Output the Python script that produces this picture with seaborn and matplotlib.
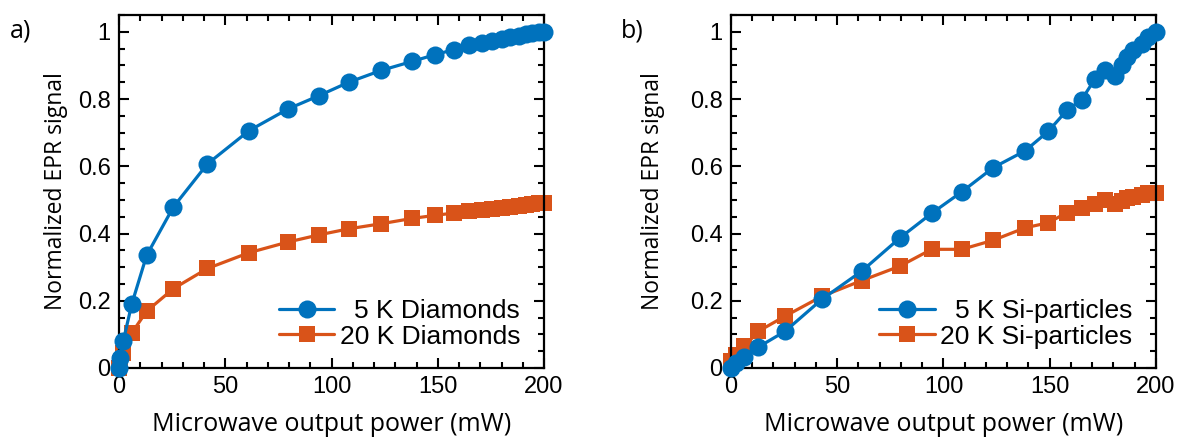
import numpy as np
import matplotlib
matplotlib.use("Agg")
import matplotlib.pyplot as plt
import seaborn as sns
from matplotlib.ticker import MultipleLocator, FixedFormatter, FixedLocator

# Panel a) diamonds
power_dia = [0, 0.5, 2, 6, 13, 25.6, 41.6, 61.2, 79.7, 94.1, 108.1, 123.3, 138.0,
             148.7, 157.6, 164.7, 170.7, 175.5, 180, 184, 188, 191.5, 194.5, 197.5, 200]
dia_5k = [0, 0.03, 0.08, 0.19, 0.335, 0.479, 0.607, 0.706, 0.771, 0.810, 0.850, 0.885,
          0.912, 0.932, 0.947, 0.960, 0.968, 0.974, 0.979, 0.984, 0.988, 0.992, 0.995, 0.998, 1.0]
dia_20k = [0, 0.015, 0.044, 0.104, 0.169, 0.236, 0.296, 0.343, 0.375, 0.396, 0.414, 0.429,
           0.445, 0.454, 0.461, 0.466, 0.470, 0.474, 0.477, 0.480, 0.483, 0.486, 0.488, 0.490, 0.492]

# Panel b) Si-particles
power_si = [0, 2.4, 6.3, 12.8, 25.4, 42.7, 61.5, 79.5, 94.4, 108.6, 123.4, 138.4, 149.3,
            158.0, 165.0, 171.3, 176.0, 180.7, 183.9, 186.2, 189.3, 193.3, 196.4, 200]
si_5k = [0, 0.014, 0.034, 0.062, 0.109, 0.204, 0.288, 0.387, 0.460, 0.524, 0.596, 0.646,
         0.704, 0.766, 0.798, 0.860, 0.885, 0.870, 0.900, 0.925, 0.945, 0.965, 0.985, 1.0]
si_20k = [0.02, 0.04, 0.064, 0.109, 0.154, 0.213, 0.260, 0.303, 0.353, 0.353, 0.380, 0.417,
          0.432, 0.462, 0.477, 0.487, 0.499, 0.489, 0.497, 0.507, 0.510, 0.515, 0.520, 0.522]

ytick_vals = [0, 0.2, 0.4, 0.6, 0.8, 1.0]
ytick_labels = ["0", "0.2", "0.4", "0.6", "0.8", "1"]
xtick_vals = [0, 50, 100, 150, 200]

BLUE = "#0072BD"
ORANGE = "#D95319"

sns.set_style("ticks")
plt.rcParams["font.family"] = ["Liberation Sans", "DejaVu Sans"]
plt.rcParams["font.size"] = 17
plt.rcParams["text.color"] = "black"
plt.rcParams["axes.labelcolor"] = "black"
plt.rcParams["xtick.color"] = "black"
plt.rcParams["ytick.color"] = "black"
label_font = ["Open Sans", "DejaVu Sans"]

fig = plt.figure(figsize=(11.8, 4.41), dpi=100)
ax_a = fig.add_axes([119 / 1180, 73 / 441, 425 / 1180, 353 / 441])
ax_b = fig.add_axes([731 / 1180, 73 / 441, 425 / 1180, 353 / 441])

panels = [
    (ax_a, power_dia, dia_5k, dia_20k, "5 K Diamonds", "20 K Diamonds", "a)", 21, -0.12),
    (ax_b, power_si, si_5k, si_20k, "5 K Si-particles", "20 K Si-particles", "b)", 632, -0.155),
]

for ax, xs, y5, y20, lab5, lab20, tag, tag_x, ylab_x in panels:
    sns.lineplot(x=xs, y=y5, ax=ax, color=BLUE, marker="o", markersize=13,
                 markeredgewidth=0, linewidth=2.3, estimator=None, sort=False,
                 label=lab5, clip_on=False)
    sns.lineplot(x=xs, y=y20, ax=ax, color=ORANGE, marker="s", markersize=11,
                 markeredgewidth=0, linewidth=2.3, estimator=None, sort=False,
                 label=lab20, clip_on=False)
    ax.lines[0].set_zorder(3)
    ax.lines[1].set_zorder(2)

    ax.set_xlim(0, 200)
    ax.set_ylim(0, 1.05)
    ax.xaxis.set_major_locator(FixedLocator(xtick_vals))
    ax.xaxis.set_minor_locator(MultipleLocator(10))
    ax.yaxis.set_major_locator(FixedLocator(ytick_vals))
    ax.yaxis.set_major_formatter(FixedFormatter(ytick_labels))
    ax.yaxis.set_minor_locator(MultipleLocator(0.05))
    ax.tick_params(which="both", direction="in", top=True, right=True,
                   width=1.5, color="black", labelcolor="black")
    ax.tick_params(which="major", length=7, labelsize=17, pad=6)
    ax.tick_params(which="minor", length=4)
    for sp in ax.spines.values():
        sp.set_linewidth(1.6)
        sp.set_color("black")

    ax.set_xlabel("Microwave output power (mW)", fontsize=18, family=label_font,
                  color="black")
    ax.set_ylabel("Normalized EPR signal", fontsize=16.5, family=label_font,
                  color="black")
    ax.xaxis.set_label_coords(0.5, -0.125)
    ax.yaxis.set_label_coords(ylab_x, 0.5)

    leg = ax.legend(loc="lower right", frameon=False, fontsize=19,
                    handlelength=2.1, handletextpad=0.2, labelspacing=0.05,
                    borderpad=0, borderaxespad=0, bbox_to_anchor=(0.944, 0.055))
    # right-align the legend labels, as in the source figure
    fig.canvas.draw()
    renderer = fig.canvas.get_renderer()
    widths = [t.get_window_extent(renderer).width for t in leg.get_texts()]
    for t, w in zip(leg.get_texts(), widths):
        t.set_color("black")
        t.set_position((max(widths) - w, 0))

    fig.text(tag_x / 1180, 1 - 31 / 441, tag, fontsize=18, ha="center", va="center",
             family=label_font, color="black")

fig.savefig("out.png", dpi=100)
